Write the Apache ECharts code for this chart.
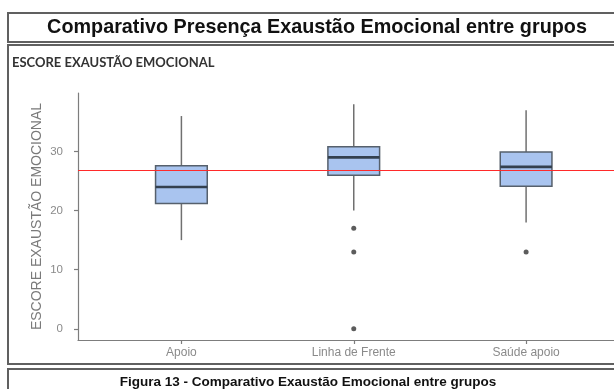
<!DOCTYPE html>
<html>
<head>
<meta charset="utf-8">
<script src="https://cdn.jsdelivr.net/npm/echarts@6/dist/echarts.min.js"></script>
<style>
  html, body { margin: 0; padding: 0; background: #ffffff; }
  #chart { width: 614px; height: 389px; }
</style>
</head>
<body>
<div id="chart"></div>
<script>
// Groups and five-number summaries of the emotional exhaustion score
const groups = ['Apoio', 'Linha de Frente', 'Saúde apoio'];
const whiskerLow = [15, 20, 18];
const q1 = [21.2, 26, 24.1];
const medians = [24, 29, 27.4];
const q3 = [27.6, 30.8, 29.9];
const whiskerHigh = [36, 38, 37];

// Outliers: group position (1-based) and score
const outlierGroup = [2, 2, 2, 3];
const outlierValue = [17, 13, 0, 13];

// Overall reference level (red horizontal line)
const referenceLine = [26.9];

// Axis ticks
const yTicks = [0, 10, 20, 30];
const xTicks = [1, 2, 3];

const boxData = groups.map((g, i) => [i + 1, whiskerLow[i], q1[i], medians[i], q3[i], whiskerHigh[i]]);
const outlierData = outlierGroup.map((g, i) => [g, outlierValue[i]]);

const BOX_WIDTH = 0.3; // in x data units

function renderBox(params, api) {
  const x = api.value(0);
  const pMin = api.coord([x, api.value(1)]);
  const pQ1 = api.coord([x, api.value(2)]);
  const pMed = api.coord([x, api.value(3)]);
  const pQ3 = api.coord([x, api.value(4)]);
  const pMax = api.coord([x, api.value(5)]);
  const half = api.size([BOX_WIDTH, 0])[0] / 2;
  const whiskerStyle = { stroke: '#707070', lineWidth: 1.5 };
  return {
    type: 'group',
    children: [
      { type: 'line', shape: { x1: pQ3[0], y1: pQ3[1], x2: pMax[0], y2: pMax[1] }, style: whiskerStyle },
      { type: 'line', shape: { x1: pQ1[0], y1: pQ1[1], x2: pMin[0], y2: pMin[1] }, style: whiskerStyle },
      { type: 'rect', shape: { x: pQ3[0] - half, y: pQ3[1], width: half * 2, height: pQ1[1] - pQ3[1] },
        style: { fill: '#a9c4ef', stroke: '#56606c', lineWidth: 1.5 } },
      { type: 'line', shape: { x1: pMed[0] - half, y1: pMed[1], x2: pMed[0] + half, y2: pMed[1] },
        style: { stroke: '#33404f', lineWidth: 2.6 } }
    ]
  };
}

const chart = echarts.init(document.getElementById('chart'), null, { renderer: 'canvas' });

const frame = { fill: 'none', stroke: '#606060', lineWidth: 2 };
const axisFont = '"Liberation Sans", Arial, sans-serif';

chart.setOption({
  backgroundColor: '#ffffff',
  animation: false,
  graphic: [
    { type: 'rect', shape: { x: 8, y: 13, width: 640, height: 29 }, style: frame, silent: true },
    { type: 'rect', shape: { x: 8, y: 45, width: 640, height: 319 }, style: frame, silent: true },
    { type: 'rect', shape: { x: 8, y: 369, width: 640, height: 40 }, style: frame, silent: true },
    { type: 'text', x: 317, y: 28, style: {
        text: 'Comparativo Presença Exaustão Emocional entre grupos',
        font: 'bold 19.8px "Liberation Sans", Arial, sans-serif', fill: '#111111',
        align: 'center', verticalAlign: 'middle' } },
    { type: 'text', x: 12, y: 63, style: {
        text: 'ESCORE EXAUSTÃO EMOCIONAL',
        font: 'bold 13px Lato, "Open Sans", sans-serif', fill: '#333333',
        align: 'left', verticalAlign: 'middle' } },
    { type: 'text', x: 308, y: 382, style: {
        text: 'Figura 13 - Comparativo Exaustão Emocional entre grupos',
        font: 'bold 13.5px "Liberation Sans", Arial, sans-serif', fill: '#111111',
        align: 'center', verticalAlign: 'middle' } }
  ],
  grid: { left: 78, top: 93, width: 551.5, height: 247, outerBoundsMode: 'none', containLabel: false },
  xAxis: {
    type: 'value',
    min: 0.4,
    max: 3.6,
    splitLine: { show: false },
    axisLine: { onZero: false, lineStyle: { color: '#7d7d7d', width: 1.2 } },
    axisTick: { show: true, length: 4, customValues: xTicks, lineStyle: { color: '#7d7d7d', width: 1.2 } },
    axisLabel: {
      customValues: xTicks,
      formatter: v => groups[Math.round(v) - 1] || '',
      color: '#8a8a8a', fontSize: 12, fontFamily: axisFont, margin: 7
    }
  },
  yAxis: {
    type: 'value',
    min: -1.9,
    max: 39.9,
    name: 'ESCORE EXAUSTÃO EMOCIONAL',
    nameLocation: 'middle',
    nameGap: 34,
    nameMoveOverlap: false,
    nameRotate: 90,
    nameTextStyle: { color: '#7a7a7a', fontSize: 14, fontFamily: axisFont },
    splitLine: { show: false },
    axisLine: { show: true, onZero: false, lineStyle: { color: '#7d7d7d', width: 1.2 } },
    axisTick: { show: true, length: 4, customValues: yTicks, lineStyle: { color: '#7d7d7d', width: 1.2 } },
    axisLabel: {
      customValues: yTicks,
      color: '#8a8a8a', fontSize: 11.5, fontFamily: axisFont, margin: 15
    }
  },
  series: [
    {
      type: 'custom',
      name: 'box',
      renderItem: renderBox,
      encode: { x: 0, y: [1, 2, 3, 4, 5] },
      data: boxData,
      z: 2,
      markLine: {
        silent: true,
        symbol: 'none',
        label: { show: false },
        lineStyle: { color: '#ff2a2a', width: 1.2, type: 'solid' },
        data: referenceLine.map(v => ({ yAxis: v })),
        z: 5
      }
    },
    {
      type: 'scatter',
      name: 'outliers',
      data: outlierData,
      symbol: 'circle',
      symbolSize: 5,
      itemStyle: { color: '#333333' },
      z: 3
    }
  ]
});
</script>
</body>
</html>
